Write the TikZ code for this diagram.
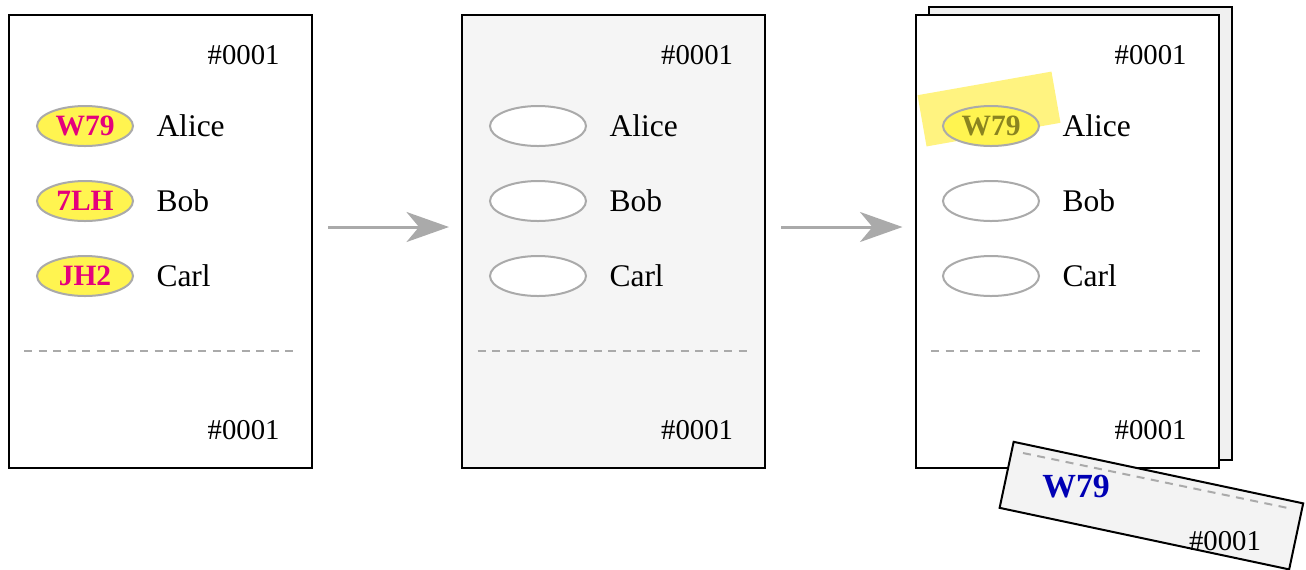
\documentclass[tikz,border=0pt]{standalone}
\usepackage{fontspec}
\setmainfont{Liberation Serif}
\usetikzlibrary{positioning,arrows.meta,shapes.geometric}
\definecolor{tagyellow}{HTML}{FFF450}
\definecolor{tagpink}{HTML}{E4007C}
\definecolor{tagolive}{HTML}{8A8420}
\definecolor{markyellow}{HTML}{FFF380}
\definecolor{edgegray}{HTML}{AAAAAA}
\definecolor{voidgray}{HTML}{F5F5F5}
\definecolor{sheetgray}{HTML}{F0F0F0}
\definecolor{stubgray}{HTML}{F3F3F3}
\definecolor{stubblue}{HTML}{0000B4}
\tikzset{
ticket/.style={
  draw, line width=0.8pt, fill=white,
  minimum width=121.2pt, minimum height=181.2pt,
  inner sep=0pt
},
tag/.style={
  ellipse, draw=edgegray, line width=0.8pt, fill=white,
  minimum width=38.4pt, minimum height=16pt, inner sep=0pt,
  font=\fontsize{11.8}{13}\selectfont\bfseries
},
voter/.style={anchor=west, inner sep=0pt, font=\fontsize{12.6}{14}\selectfont},
number/.style={anchor=east, inner sep=0pt},
divider/.style={draw=edgegray, line width=0.8pt, dash pattern=on 3.2pt off 2.6pt},
flow/.style={draw=edgegray, line width=1.2pt,
  -{Stealth[length=17pt, width=12pt, inset=5pt]},
  shorten <=6pt, shorten >=4.8pt},
}

\begin{document}
\begin{tikzpicture}[x=0.4pt, y=-0.4pt, font=\fontsize{11.5}{13}\selectfont]
\useasboundingbox (0,0) rectangle (1306,569);

% second sheet behind the printed copy
\node[ticket, fill=sheetgray] (back) at (1080.5,233) {};

% the three stages of the ballot
\node[ticket] (p1) at (160.5,241.5) {};
\node[ticket, fill=voidgray] (p2) at (613.5,241.5) {};
\node[ticket] (p3) at (1067,241.5) {};

% marker stroke over the chosen code
\node[fill=markyellow, minimum width=54.4pt, minimum height=20.8pt,
      rotate=10] (mark) at (989,109) {};

\foreach \p/\x in {1/0, 2/453.5, 3/907} {
  \node[number] (top\p) at (\x+280,55) {\#0001};
  \node[number] (bot\p) at (\x+280,430) {\#0001};
  \draw[divider] (\x+24,351) -- (\x+297,351);
}

% codes on the first ballot
\node[tag, fill=tagyellow, text=tagpink] (t1a) at (85,126) {W79};
\node[tag, fill=tagyellow, text=tagpink] (t1b) at (85,201) {7LH};
\node[tag, fill=tagyellow, text=tagpink] (t1c) at (85,276) {JH2};
% blanked codes
\node[tag] (t2a) at (538,126) {};
\node[tag] (t2b) at (538,201) {};
\node[tag] (t2c) at (538,276) {};
\node[tag, fill=tagyellow, text=tagolive] (t3a) at (991,126) {W79};
\node[tag] (t3b) at (991,201) {};
\node[tag] (t3c) at (991,276) {};

\foreach \p in {1,2,3} {
  \node[voter, right=8.8pt of t\p a] (a\p) {Alice};
  \node[voter, right=8.8pt of t\p b] (b\p) {Bob};
  \node[voter, right=8.8pt of t\p c] (c\p) {Carl};
}

\draw[flow] ([yshift=5.8pt]p1.east) -- ([yshift=5.8pt]p2.west);
\draw[flow] ([yshift=5.8pt]p2.east) -- ([yshift=5.8pt]p3.west);

% torn-off receipt
\node[draw, line width=0.8pt, fill=stubgray, minimum width=118.4pt,
      minimum height=27pt, rotate=-12] (stub) at (1151.4,505.6) {};
\draw[divider] (1023,453) -- (1288,508);
\node[font=\fontsize{13.5}{15}\selectfont\bfseries, text=stubblue,
      inner sep=0pt] (code) at (1076,487) {W79};
\node[inner sep=0pt] (serial) at (1225,541) {\#0001};
\end{tikzpicture}
\end{document}
